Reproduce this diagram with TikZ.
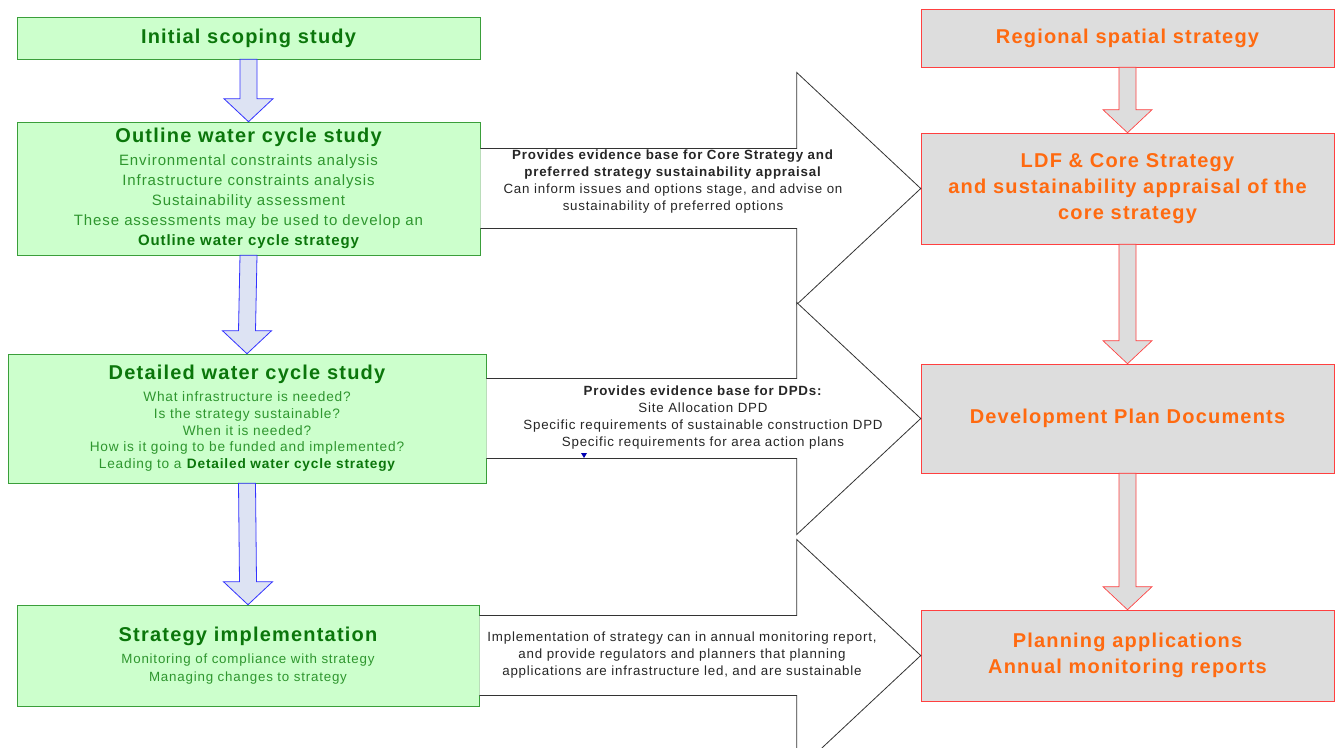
\documentclass[tikz,border=0pt]{standalone}
\usepackage{fontspec}
\setmainfont{Liberation Sans}[LetterSpace=6]
\usetikzlibrary{positioning,calc}

\definecolor{studyfill}{HTML}{CCFFCC}
\definecolor{studyline}{HTML}{3A9E3A}
\definecolor{studytext}{HTML}{0B760B}
\definecolor{studysub}{HTML}{2E962E}
\definecolor{planfill}{HTML}{DDDDDD}
\definecolor{planline}{HTML}{FF4040}
\definecolor{plantext}{HTML}{FF6A10}
\definecolor{flowfill}{HTML}{DDE3F3}
\definecolor{flowline}{HTML}{3333FF}

\tikzset{
    study/.style={draw=studyline, fill=studyfill, align=center, inner sep=0pt, text=studysub,
        font=\fontsize{11.25}{15}\selectfont},
    plan/.style={draw=planline, fill=planfill, align=center, inner sep=0pt, text=plantext,
        font=\fontsize{15}{19.5}\selectfont\bfseries, minimum width=309.75pt},
    feed/.style={draw=black!80, fill=white, line width=0.6pt},
    feedtext/.style={align=center, font=\fontsize{10}{12.75}\selectfont, text=black!85},
    down/.style={draw=flowline, fill=flowfill, line width=0.6pt},
    downplan/.style={draw=planline, fill=planfill, line width=0.5pt}
}
\newcommand{\studytitle}[1]{{\fontsize{15}{18}\selectfont\bfseries\color{studytext}#1}}

% fat arrow going down from #2 to #3
\newcommand{\downblock}[3]{%
    \draw[#1] ($(#2.south)+(-8.5,0)$) -- ($(#3.north)+(-8.5,-23)$) -- ++(-16,0) -- (#3.north)
        -- ++(24.5,-23) -- ++(-16,0) -- ($(#2.south)+(8.5,0)$) -- cycle;}
% big white arrow going right from #1 to #2
\newcommand{\feedarrow}[2]{%
    \filldraw[feed] ($(#1.east)+(0,-40)$) -- ($(#2.west)+(-124,-40)$) -- ($(#2.west)+(-124,-116)$)
        -- (#2.west) -- ($(#2.west)+(-124,116)$) -- ($(#2.west)+(-124,40)$) -- ($(#1.east)+(0,40)$);}

\begin{document}
\begin{tikzpicture}[x=0.75pt,y=-0.75pt]
    \clip (0,0) rectangle (1335,747);
    \fill[white] (0,0) rectangle (1335,747);

    % water cycle studies
    \node[study, minimum width=347.25pt, minimum height=31.5pt] (scoping) at (248.5,38) {\studytitle{Initial scoping study}};
    \node[study, minimum width=347.25pt, minimum height=99.75pt] (outline) at (248.5,188.5) {\studytitle{Outline water cycle study}\\[2pt]
        Environmental constraints analysis\\Infrastructure constraints analysis\\Sustainability assessment\\
        These assessments may be used to develop an\\\textbf{\color{studytext}Outline water cycle strategy}};
    \node[study, minimum width=358.5pt, minimum height=96.75pt, font=\fontsize{10.25}{12.5}\selectfont] (detailed) at (247,418.5) {\studytitle{Detailed water cycle study}\\[4pt]
        What infrastructure is needed?\\Is the strategy sustainable?\\When it is needed?\\
        How is it going to be funded and implemented?\\Leading to a \textbf{\color{studytext}Detailed water cycle strategy}};
    \node[study, minimum width=346.5pt, minimum height=75.75pt, font=\fontsize{10}{13.5}\selectfont] (implement) at (248,655.5) {\studytitle{Strategy implementation}\\[3pt]
        Monitoring of compliance with strategy\\Managing changes to strategy};

    % planning documents
    \node[plan, minimum height=43.5pt] (regional) at (1127.5,38) {Regional spatial strategy};
    \node[plan, minimum height=83.25pt] (core) at (1127.5,188.5) {LDF \& Core Strategy\\and sustainability appraisal of the\\core strategy};
    \node[plan, minimum height=81.75pt] (dpd) at (1127.5,418.5) {Development Plan Documents};
    \node[plan, minimum height=68.25pt] (planning) at (1127.5,655.5) {Planning applications\\Annual monitoring reports};

    \downblock{down}{scoping}{outline}
    \downblock{down}{outline}{detailed}
    \downblock{down}{detailed}{implement}
    \downblock{downplan}{regional}{core}
    \downblock{downplan}{core}{dpd}
    \downblock{downplan}{dpd}{planning}

    \feedarrow{outline}{core}
    \feedarrow{detailed}{dpd}
    \feedarrow{implement}{planning}

    \node[feedtext] (evidence) at (673,182) {\textbf{Provides evidence base for Core Strategy and}\\
        \textbf{preferred strategy sustainability appraisal}\\Can inform issues and options stage, and advise on\\
        sustainability of preferred options};
    \node[feedtext] (dpdtext) at (703,418) {\textbf{Provides evidence base for DPDs:}\\Site Allocation DPD\\
        Specific requirements of sustainable construction DPD\\Specific requirements for area action plans};
    \node[feedtext] (monitor) at (682,655) {Implementation of strategy can in annual monitoring report,\\
        and provide regulators and planners that planning\\applications are infrastructure led, and are sustainable};
    \fill[blue!70!black] (581,453) -- (587,453) -- (584,458) -- cycle;
\end{tikzpicture}
\end{document}
